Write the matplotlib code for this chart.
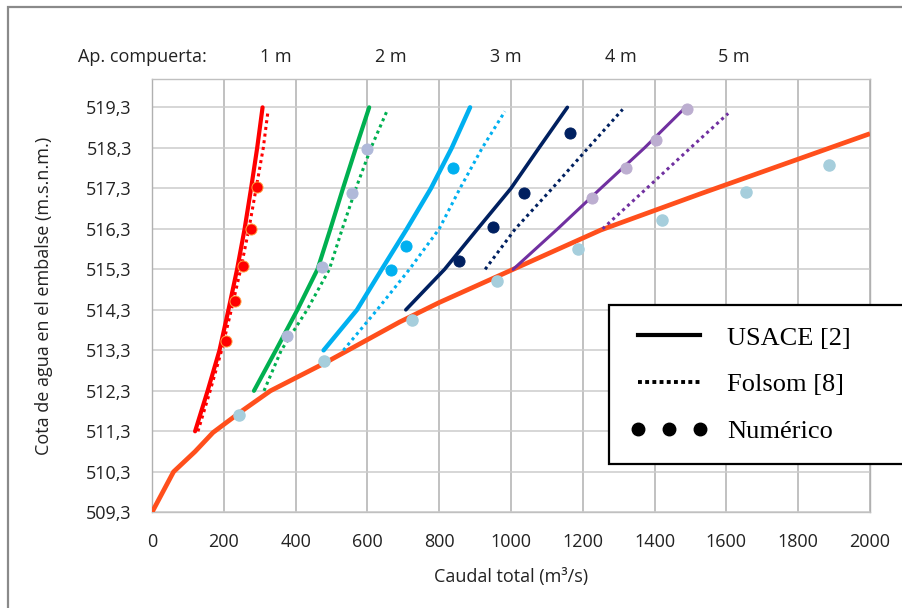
import matplotlib
matplotlib.use("Agg")
import matplotlib.pyplot as plt
from matplotlib.lines import Line2D
from matplotlib.patches import Rectangle
import matplotlib.transforms as mtransforms

# gate openings (labels on top)
gate_labels = ["1 m", "2 m", "3 m", "4 m", "5 m"]
gate_label_q = [345, 666, 986, 1306, 1621]

# USACE [2] curves: flow (m3/s) vs. reservoir level (m.s.n.m.)
usace_1m_q = [120, 155, 188, 213, 237, 258, 276, 293, 308]
usace_1m_h = [511.3, 512.3, 513.3, 514.3, 515.3, 516.3, 517.3, 518.3, 519.3]
usace_2m_q = [284, 345, 405, 461, 497, 532, 568, 605]
usace_2m_h = [512.3, 513.3, 514.3, 515.3, 516.3, 517.3, 518.3, 519.3]
usace_3m_q = [478, 571, 640, 710, 777, 835, 886]
usace_3m_h = [513.3, 514.3, 515.3, 516.3, 517.3, 518.3, 519.3]
usace_4m_q = [707, 815, 907, 1000, 1078, 1157]
usace_4m_h = [514.3, 515.3, 516.3, 517.3, 518.3, 519.3]
usace_5m_q = [1006, 1130, 1250, 1372, 1486]
usace_5m_h = [515.3, 516.3, 517.3, 518.3, 519.3]

# Folsom [8] curves
folsom_1m_q = [128, 162, 194, 221, 247, 270, 290, 310, 323]
folsom_1m_h = [511.3, 512.3, 513.3, 514.3, 515.3, 516.3, 517.3, 518.3, 519.2]
folsom_2m_q = [312, 360, 432, 494, 530, 568, 610, 654]
folsom_2m_h = [512.3, 513.3, 514.3, 515.3, 516.3, 517.3, 518.3, 519.2]
folsom_3m_q = [533, 627, 717, 800, 858, 920, 983]
folsom_3m_h = [513.3, 514.3, 515.3, 516.3, 517.3, 518.3, 519.2]
folsom_4m_q = [928, 1012, 1115, 1215, 1311]
folsom_4m_h = [515.3, 516.3, 517.3, 518.3, 519.25]
folsom_5m_q = [1255, 1378, 1500, 1605]
folsom_5m_h = [516.3, 517.3, 518.3, 519.15]

# numerical results
num_1m_q = [205, 232, 253, 275, 293]
num_1m_h = [513.52, 514.53, 515.38, 516.3, 517.33]
num_2m_q = [377, 473, 556, 598]
num_2m_h = [513.66, 515.36, 517.18, 518.28]
num_3m_q = [665, 707, 839]
num_3m_h = [515.28, 515.87, 517.79]
num_4m_q = [856, 949, 1036, 1164]
num_4m_h = [515.5, 516.34, 517.19, 518.66]
num_5m_q = [1225, 1320, 1404, 1491]
num_5m_h = [517.05, 517.79, 518.5, 519.26]

# free flow (gate fully open)
free_q = [0, 60, 120, 170, 250, 330, 480, 690, 800, 1006, 1250, 1526, 2000]
free_h = [509.3, 510.3, 510.8, 511.27, 511.8, 512.3, 512.98, 514.0, 514.48, 515.3, 516.27, 517.16, 518.65]
free_num_q = [242, 480, 723, 960, 1188, 1422, 1655, 1887]
free_num_h = [511.71, 513.04, 514.04, 515.0, 515.8, 516.53, 517.2, 517.87]

yticks = [509.3 + i for i in range(11)]
xticks = list(range(0, 2001, 200))

tick_font = "Open Sans"

fig = plt.figure(figsize=(9.03, 6.08), dpi=100)
ax = fig.add_axes([152 / 903, 1 - 512.3 / 608, 718 / 903, 433.3 / 608])

# outer chart border (only left/top visible in the crop)
fig.patches.append(Rectangle((8.3 / 903, -0.2), 1.5, 1.2 - 6.7 / 608,
                             transform=fig.transFigure, fill=False,
                             edgecolor="#8a8a8a", lw=1.6))

ax.plot(free_q, free_h, color="#ff4f1c", lw=3.4, solid_capstyle="butt", zorder=3)

solid_lw = [3.0, 3.0, 3.2, 2.6, 2.2]
groups = [
    (usace_1m_q, usace_1m_h, folsom_1m_q, folsom_1m_h, num_1m_q, num_1m_h, "#ff0000", "#ff0000"),
    (usace_2m_q, usace_2m_h, folsom_2m_q, folsom_2m_h, num_2m_q, num_2m_h, "#00b050", "#b0b9d9"),
    (usace_3m_q, usace_3m_h, folsom_3m_q, folsom_3m_h, num_3m_q, num_3m_h, "#00b0f0", "#00b0f0"),
    (usace_4m_q, usace_4m_h, folsom_4m_q, folsom_4m_h, num_4m_q, num_4m_h, "#002060", "#002060"),
    (usace_5m_q, usace_5m_h, folsom_5m_q, folsom_5m_h, num_5m_q, num_5m_h, "#7030a0", "#bcaed0"),
]
for i, (uq, uh, fq, fh, nq, nh, col, dotcol) in enumerate(groups):
    ax.plot(uq, uh, color=col, lw=solid_lw[i], solid_capstyle="round", zorder=4)
    ax.plot(fq, fh, color=col, lw=2.2, linestyle=(0, (1, 1.2)), zorder=4)
    edge = "#ffa040" if i == 0 else dotcol
    ax.plot(nq, nh, "o", color=dotcol, markeredgecolor=edge, markeredgewidth=0.7,
            markersize=8, zorder=5)

ax.plot(free_num_q, free_num_h, "o", color="#a6cedc", markeredgecolor="#a6cedc",
        markersize=8, zorder=5)

ax.set_xlim(0, 2000)
ax.set_ylim(509.3, 520.0)
ax.set_xticks(xticks)
ax.set_yticks(yticks)
ax.set_yticklabels([f"{v:.1f}".replace(".", ",") for v in yticks])
ax.xaxis.grid(True, color="#b0b0b0", lw=1.1)
ax.yaxis.grid(True, color="#cccccc", lw=1.1)
ax.set_axisbelow(True)
for s in ax.spines.values():
    s.set_color("#c0c0c0")
    s.set_linewidth(1.0)
ax.spines["left"].set_color("#b0b0b0")
ax.spines["right"].set_color("#b0b0b0")
ax.tick_params(axis="both", length=0, labelsize=13, colors="#222222")
ax.tick_params(axis="x", pad=15)
ax.tick_params(axis="y", pad=14.5)
for lab in ax.get_xticklabels() + ax.get_yticklabels():
    lab.set_fontfamily(tick_font)

ax.set_xlabel("Caudal total (m³/s)", fontsize=13, fontfamily=tick_font, color="#222222")
ax.set_ylabel("Cota de agua en el embalse (m.s.n.m.)", fontsize=13,
              fontfamily=tick_font, color="#222222")
ax.xaxis.set_label_coords(0.5, -0.128)
ax.yaxis.set_label_coords(-0.138, 0.5)

# gate opening labels above the plot
trans = mtransforms.blended_transform_factory(ax.transData, ax.transAxes)
ax.text(-207, 1.05, "Ap. compuerta:", transform=trans, ha="left", va="center",
        fontsize=13, fontfamily=tick_font, color="#222222")
for q, lab in zip(gate_label_q, gate_labels):
    ax.text(q, 1.05, lab, transform=trans, ha="center", va="center",
            fontsize=13, fontfamily=tick_font, color="#222222")

handles = [
    Line2D([], [], color="black", lw=3.0),
    Line2D([], [], color="black", lw=2.8, linestyle=(0, (1, 0.85))),
    Line2D([], [], color="black", marker="o", linestyle="none", markersize=9),
]
leg = fig.legend(handles, ["USACE [2]", "Folsom [8]", "Numérico"],
                 loc="upper left", bbox_to_anchor=(609 / 903, 1 - 305 / 608, 0.5, 0),
                 mode="expand", numpoints=3, handlelength=2.95, handletextpad=0.72,
                 borderpad=0.8, labelspacing=0.88, borderaxespad=0,
                 prop={"family": "Liberation Serif", "size": 19},
                 fancybox=False, framealpha=1, edgecolor="black")
leg.get_frame().set_linewidth(1.6)

fig.savefig("out.png", dpi=100)
